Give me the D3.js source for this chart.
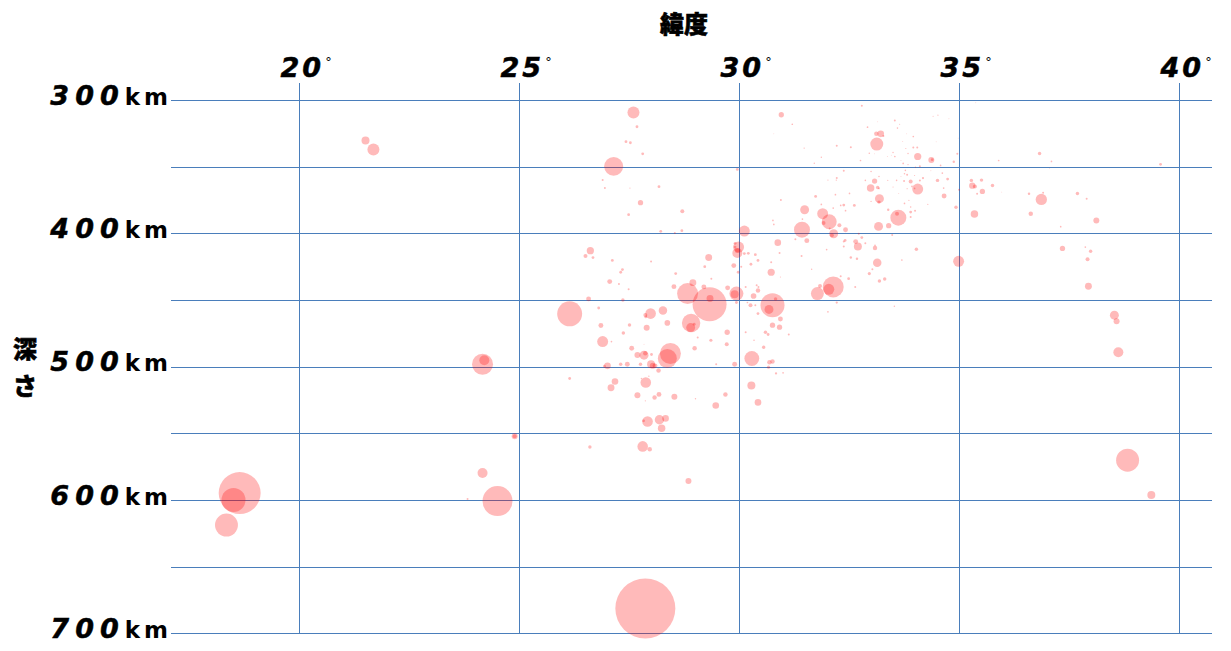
<!DOCTYPE html>
<html><head><meta charset="utf-8">
<script src="https://d3js.org/d3.v7.min.js"></script>
<style>
html,body{margin:0;padding:0;background:#fff;overflow:hidden}
svg{display:block}
text{fill:#000;font-family:"DejaVu Sans",sans-serif;font-weight:bold}
</style></head><body><svg id="c" width="1231" height="651"></svg>
<script>
const latTicks=[20,25,30,35,40];
const depthTicks=[300,350,400,450,500,550,600,650,700];
const depthLabels=[300,400,500,600,700];
const xTitle="緯度";
const yTitle=["深","さ"];
// each record: latitude (deg), depth (km), relative energy
const quakesLarge=[[27.86,681,900],[18.64,594.4,440],[18.5,599.6,144],[18.34,618.4,132],[24.5,600.4,225],[24.16,497.8,110],[24.2,494.8,25],[26.14,460,156],[29.32,452.8,289],[30.75,453.6,144],[38.82,569.7,132],[39.36,595.9,16],[24.16,579.4,25],[24.89,551.7,9],[24.89,551.7,4],[23.82,598.9,1],[21.5,330,16],[21.68,336.7,36],[27.59,309,36],[27.14,349.4,90]];
const quakesCentralUpper=[[27.67,319.7,2],[27.42,330.9,2],[27.52,331.7,2],[27.8,340,2],[26.89,359.7,1],[26.94,365.7,1],[27.51,365.7,.3],[28.17,364.6,2],[27.75,376.6,7],[27.48,385.6,2],[28.7,383.1,4],[28.21,398.1,2],[28.69,397.6,2],[28.53,399.4,1],[26.61,412.6,13],[26.5,416.6,4],[26.67,417.8,2],[27.11,419.9,2],[27.99,420.8,1],[27.34,426.8,2],[27.3,428.8,2],[28.55,429.8,2],[27.05,435.8,6],[27.26,437.6,1],[27.48,441.6,1],[28.51,439.6,6],[28.94,436.6,12],[28.82,444.8,110],[29.19,439.8,6],[29.33,448.5,12],[29.73,440.5,6],[30.11,397.9,30],[29.95,351.7,2],[29.98,409.9,30],[29.95,414.4,25],[29.9,407.1,2],[29.9,409.9,2],[29.95,412.6,6],[30.11,414.8,2],[30.2,414.6,2],[30.36,415.6,2],[30.42,419.9,2],[29.3,417.8,12],[29.21,424.6,2],[29.87,423.8,6],[30.04,424.6,1],[30.26,422.8,2],[30.72,421.3,1],[29.97,428.8,2],[30.72,428.8,13],[29.36,433.6,1],[29.93,444.8,49],[29.89,445.3,16],[30.14,439.8,1],[30.39,438.6,1],[30.43,439.8,1]];
const quakesEastUpper=[[31.83,439.1,4],[32.13,439.8,110],[32.03,441.6,30],[31.77,444.8,42],[32.48,433.6,2],[32.63,439.8,1],[32.3,431.8,1],[31.64,426.6,.5],[30.93,432.4,.3],[30.91,414.4,1],[30.87,406.6,11],[31.41,416.6,1],[31.42,396.9,64],[31.53,405.1,6],[31.27,404.1,1],[31.48,381.9,20],[31.89,384.9,30],[32.04,390.9,55],[31.91,391.9,4],[32.14,399.9,20],[32.1,401.1,4],[32.27,393.6,4],[32.41,396.9,6],[32.05,395.9,1],[31.43,388.9,.7],[30.76,389.9,.7],[30.78,392.9,.7],[30.94,374.7,1],[31.73,371.9,2],[32.18,370.6,.7],[31.86,377.9,.7],[32.3,378.7,.7],[32.37,378.4,2],[32.61,378.7,2],[32.5,369.7,.7],[32.13,380.7,.7],[32.41,382.6,.7],[32.37,352.7,1],[32.21,358.2,1],[32.2,359.7,.5],[32.01,359.7,.3],[32.21,334,1],[32.53,335,1],[31.86,342.5,.5],[31.7,347,.5],[31.47,335.7,.5],[31.2,317.8,.7],[30.95,310.7,7],[30.78,325,.2],[32.4,404.9,2],[32.37,405.8,1],[32.64,405.8,6],[32.69,409.4,16],[32.37,409.4,1],[31.98,411.8,.7],[32.53,417.8,1.5],[32.67,418.6,1.5]];
const quakesCluster=[[32.78,304,1],[33.53,315,1],[32.91,320,.7],[33.59,320.7,.6],[33.64,317.8,.3],[33.14,316,.2],[34.4,311.8,.3],[34.51,311,.3],[34.76,313.7,.2],[33.11,325,5],[33.21,325,11],[33.27,326.7,1],[33.12,332.7,42],[33.95,327,.7],[33.8,325,.2],[33.71,330.7,.2],[34.47,331,.2],[34.04,335.2,1],[33.95,335.2,1],[33.78,336,.3],[34.05,342,13],[33.83,339.7,.5],[33.49,339,.5],[33.53,342,.7],[33.36,342,.2],[33.45,341,.2],[32.95,339.5,.6],[33.07,340,.2],[32.75,345,.7],[33.67,345,.2],[33.72,347.2,.7],[33.83,348,.4],[34,350,.4],[34.1,349.4,1],[34.36,344.7,9],[34.38,344.4,2],[34.57,348.7,.7],[34.87,345.9,1.5],[34.95,340,1],[34.97,328.2,.2],[35.37,301.7,.2],[35.89,345,.7],[33.77,352.4,.6],[33.75,354.9,.6],[33.81,355.7,1],[33.67,357,.2],[33.98,356.2,.3],[34.61,354.4,.7],[34.35,352.7,.2],[32.99,353.2,.6],[33.17,357,.6],[32.86,359.9,.6],[33.07,360.4,7],[33.37,359.9,.3],[33.57,359.9,.6],[33.74,360.4,1],[33.89,360.7,4],[34.1,359.9,1],[34.17,358.2,1.2],[34.5,359.9,3],[34.73,358.9,2],[32.98,365.7,14],[33.14,365.2,3],[33.17,365.9,.7],[34.05,366.4,30],[33.92,364.4,.7],[33.81,366.1,.3],[33.98,365.9,.7],[33.49,364.9,.3],[33.62,369.7,.2],[34.64,365.7,.7],[34.99,366.9,1],[34.65,371.6,6],[33.18,373.6,20],[33.17,376.2,3],[32.99,375.7,.4],[33.75,377.2,.7],[33.85,374.9,.3],[34.28,377.9,.3],[34.92,380.1,3],[33.38,381.9,1.5],[33.61,387.9,64],[33.58,384.9,4],[33.89,383.7,2],[33.99,382.6,1],[33.89,387.4,1],[33.89,379.9,.6],[33.16,394.4,20],[33.39,393.9,7],[33.47,400.9,1],[34.02,411.6,3],[33.08,410.6,5],[33.08,408.6,.7],[32.86,407.1,1],[32.78,402.8,2],[32.71,399.9,1],[33.13,421.6,18],[33.69,419.6,.7],[34.98,420.6,30],[33.02,426.6,1],[32.95,429.8,2.5],[33.18,435.4,3],[33.3,433.9,3],[33.52,454.3,.6]];
const quakesEast=[[36.82,339.7,3],[37.09,345.7,.7],[37.05,350.9,.2],[35.27,359.9,3],[35.5,359.7,3],[35.29,363.9,10],[35.35,364.4,4],[35.52,368.2,7],[35.4,369.9,1],[35.75,363.7,3],[35.96,368.7,.2],[36.58,369.9,1.5],[36.9,369.1,1],[36.86,374.2,32],[37.68,369.7,3],[37.89,373.6,1],[35.34,385.2,14],[36.62,384.9,5],[37.3,394.6,.7],[37.34,410.9,7],[38.11,389.9,9],[37.98,413.1,3],[37.91,419.1,4],[37.86,409.9,.7],[37.93,439.3,12],[38.52,461,20],[38.57,465.5,9],[38.61,488.8,25],[39.57,347.9,2]];
const quakesLowerWest=[[26.57,448.8,6],[27.35,449.6,3],[26.8,455.6,2],[27.98,459.8,28],[27.86,460.8,4],[27.87,462.3,2],[28.26,457.5,18],[28.9,466.8,85],[28.89,470.3,20],[28.97,467.8,2],[28.36,466.8,8],[26.85,468.7,6],[27.5,468.3,3],[27.89,470.5,9],[27.36,474.3,3],[26.89,480.8,30],[27.09,480.8,.7],[27.55,485.8,6],[27.83,482.8,.2],[27.68,490.8,9],[27.83,491,20],[27.86,489.5,5],[28,490.5,2],[28.43,489.7,110],[28.36,493.5,90],[27.75,497.8,3],[27.45,497.8,6],[27.3,497.8,3],[27,499,11],[26.93,499.3,2],[27.99,497.8,16],[28.03,499,9],[28.08,499,6],[28.16,502.5,5],[26.14,508.5,2],[27.17,510.7,11],[27.08,515.4,12],[27.87,511.5,28],[27.77,508.5,.5],[27.94,506.7,.5],[27.68,521,9],[27.86,525.2,.4],[28.07,522.7,5],[28.17,520.4,6],[28.52,522.2,9],[29,523.7,.5],[29.68,520.4,5],[29.46,528.7,11],[27.91,540.7,28],[27.82,540.2,2],[28.18,539.4,22],[28.32,538.4,11],[28.23,545.7,14],[26.6,559.9,3],[27.8,559.4,28],[27.96,561.6,5],[28.84,585.4,9]];
const quakesLowerEast=[[28.98,485.8,5],[29.05,477.8,1],[29.35,479.8,2.5],[29.72,473.8,7],[29.71,482.8,4],[29.47,497.8,1],[29.89,497.8,6],[30.28,493.5,55],[30.14,473.8,1],[30.33,479.8,.6],[30.55,485,3],[30.59,473.8,3],[30.65,475.5,2],[30.75,468.5,7],[30.91,470,7],[30.93,463.8,6],[31.12,475.5,1],[30.42,459.8,2],[30.67,456.7,20],[30.82,448.8,3],[30.25,453.6,4],[30.36,453.6,1],[30.18,451.5,.7],[29.93,451.5,2],[30.32,446.6,8],[30.42,442.5,5],[30.68,496.3,5],[30.75,495.8,5],[30.66,500,2.5],[30.83,504.7,1.3],[30.99,504.2,.7],[30.27,513.7,16],[30.42,526.4,11],[32.01,458.5,.7],[32.21,451.5,1.3]];

const quakes=[...quakesLarge,...quakesCentralUpper,...quakesEastUpper,...quakesCluster,...quakesEast,...quakesLowerWest,...quakesLowerEast];

const x=d3.scaleLinear().domain([20,40]).range([299.5,1179.5]);
const y=d3.scaleLinear().domain([300,700]).range([100.5,633.9]);
const r=d3.scaleSqrt().domain([0,900]).range([0,30]);
const svg=d3.select("#c");
const gridColor="#4a7ebb";

svg.append("g").attr("transform","translate(0,634)")
  .call(d3.axisTop(x).offset(0).tickValues(latTicks).tickSize(551).tickFormat(""))
  .selectAll(".tick").attr("transform",d=>`translate(${Math.floor(x(d))+.5},0)`);
svg.append("g").attr("transform","translate(171,0)")
  .call(d3.axisRight(y).offset(0).tickValues(depthTicks).tickSize(1041).tickFormat(""))
  .selectAll(".tick").attr("transform",d=>`translate(0,${Math.floor(y(d))+.5})`);
svg.selectAll(".domain").remove();
svg.selectAll(".tick line").attr("stroke",gridColor).attr("stroke-width",1);

svg.append("g").selectAll("circle").data(quakes).join("circle")
  .attr("cx",d=>x(d[0])).attr("cy",d=>y(d[1])).attr("r",d=>r(d[2]))
  .attr("fill","rgb(255,0,0)").attr("fill-opacity",0.27);

// latitude labels
svg.append("g").selectAll("text").data(latTicks).join("text")
  .attr("x",d=>x(d)-19).attr("y",77).attr("font-style","italic")
  .attr("letter-spacing",3).attr("stroke","#000").attr("stroke-width",.5)
  .style("font-size","27px").text(d=>d);
svg.append("g").selectAll("text").data(latTicks).join("text")
  .attr("x",d=>x(d)+29).attr("y",66).attr("text-anchor","middle")
  .style("font-size","13px").style("font-weight","normal").text("°");

// depth labels
const yl=svg.append("g").selectAll("text").data(depthLabels).join("text")
  .attr("x",172).attr("y",d=>y(d)+4).attr("text-anchor","end");
yl.append("tspan").style("font-size","27px").style("font-style","italic")
  .attr("stroke","#000").attr("stroke-width",.5).attr("letter-spacing",6).text(d=>d);
yl.append("tspan").style("font-size","23px").attr("letter-spacing",4).text("km");

svg.append("text").attr("x",684).attr("y",33).attr("text-anchor","middle")
  .attr("stroke","#000").attr("stroke-width",.6)
  .style("font-family",'"Noto Sans CJK JP"').style("font-weight","900").style("font-size","24px").text(xTitle);
svg.append("g").selectAll("text").data(yTitle).join("text")
  .attr("x",25).attr("text-anchor","middle").attr("y",(d,i)=>358+i*37)
  .attr("stroke","#000").attr("stroke-width",.6)
  .style("font-family",'"Noto Sans CJK JP"').style("font-weight","900").style("font-size","24px").text(d=>d);
</script></body></html>
